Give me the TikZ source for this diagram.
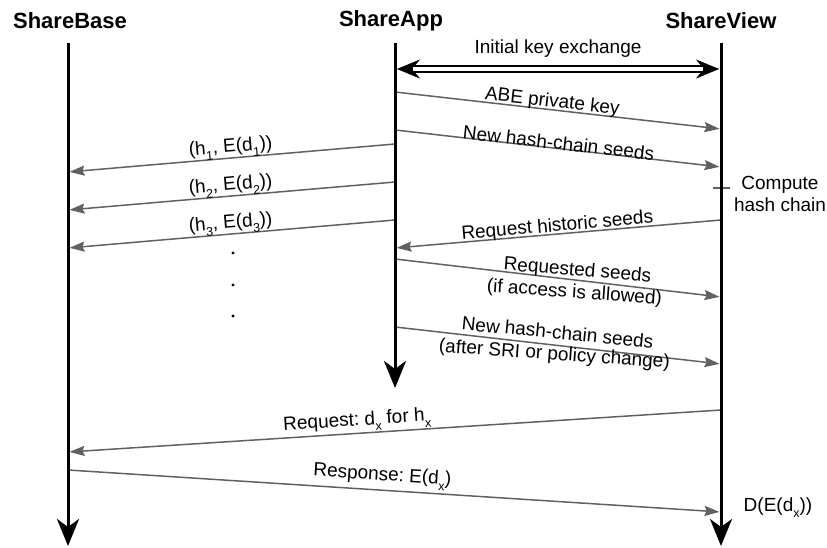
\documentclass[tikz,border=0pt]{standalone}
\usepackage{fontspec}
\setmainfont{Liberation Sans}
\usetikzlibrary{arrows.meta,positioning}
\frenchspacing
\newcommand{\lowidx}[1]{\raisebox{-6pt}{\fontsize{12.5}{13}\selectfont #1}}

\begin{document}
\begin{tikzpicture}[x=1pt,y=-1pt,
    hdr/.style={font=\fontsize{22}{25}\selectfont\bfseries,inner sep=0pt},
    life/.style={line width=3pt,-{Stealth[length=27pt,width=22pt,inset=8pt]}},
    msg/.style={draw=black!62,line width=1.5pt,-{Stealth[length=15pt,width=10pt,inset=2pt]},shorten >=1.5pt},
    lbl/.style={font=\fontsize{19}{22}\selectfont,sloped,inner sep=0pt},
    tilt/.style={font=\fontsize{19}{22}\selectfont,anchor=base,inner sep=0pt,rotate=#1},
    note/.style={font=\fontsize{19}{22}\selectfont,align=center,inner sep=0pt}]
  \useasboundingbox (0,0) rectangle (827,548);

  % participants
  \node[hdr](base) at (70,21){ShareBase};
  \node[hdr](app) at (391,21){ShareApp};
  \node[hdr](view) at (721,21){ShareView};

  \coordinate (bt) at (68,43);
  \coordinate (bb) at (68,546);
  \coordinate (at) at (395,43);
  \coordinate (ab) at (395,388);
  \coordinate (vt) at (721,43);
  \coordinate (vb) at (721,546);

  % message end points
  \coordinate (k1) at (397,69);
  \coordinate (k2) at (719,69);
  \coordinate (a1) at (395,92);
  \coordinate (v1) at (721,129);
  \coordinate (a2) at (395,130);
  \coordinate (v2) at (721,167);
  \coordinate (a3) at (395,144);
  \coordinate (b3) at (68,172);
  \coordinate (a4) at (395,182);
  \coordinate (b4) at (68,210);
  \coordinate (a5) at (395,220);
  \coordinate (b5) at (68,248);
  \coordinate (v6) at (721,220);
  \coordinate (a6) at (395,248);
  \coordinate (a7) at (395,259);
  \coordinate (v7) at (721,297);
  \coordinate (a8) at (395,327);
  \coordinate (v8) at (721,364);
  \coordinate (v9) at (721,410);
  \coordinate (b9) at (68,452);
  \coordinate (b10) at (68,470);
  \coordinate (v10) at (721,512);
  \coordinate (c1) at (713,188);
  \coordinate (c2) at (730,188);

  % key exchange, drawn as a double line
  \draw[line width=7.5pt,{Stealth[length=23pt,width=19pt,inset=8pt,line width=0.5pt]}-{Stealth[length=23pt,width=19pt,inset=8pt,line width=0.5pt]}] (k1) -- node[lbl,above=8pt]{Initial key exchange} (k2);
  \draw[white,line width=3.5pt,shorten <=16pt,shorten >=16pt] (k1) -- (k2);

  \draw[msg] (a1) -- node[lbl,above=-2pt,pos=0.48]{ABE private key} (v1);
  \draw[msg] (a2) -- node[lbl,above=-2pt]{New hash-chain seeds} (v2);
  \draw[msg] (a3) -- node[lbl,above=-1pt]{(h\lowidx{1}, E(d\lowidx{1}))} (b3);
  \draw[msg] (a4) -- node[lbl,above=-1pt]{(h\lowidx{2}, E(d\lowidx{2}))} (b4);
  \draw[msg] (a5) -- node[lbl,above=-1pt]{(h\lowidx{3}, E(d\lowidx{3}))} (b5);
  \draw[msg] (v6) -- node[lbl,above=-2pt]{Request historic seeds} (a6);
  \draw[msg] (a7) -- (v7);
  \draw[msg] (a8) -- (v8);
  \draw[msg] (v9) -- node[lbl,above=1pt,pos=0.556]{Request: d\lowidx{x} for h\lowidx{x}} (b9);
  \draw[msg] (b10) -- node[lbl,above=3pt,pos=0.48]{Response: E(d\lowidx{x})} (v10);

  % two-line labels, set a little flatter than their arrows
  \node[tilt=-4.7](rqs) at (577,276){Requested seeds};
  \node[tilt=-4.1](acc) at (574,298){(if access is allowed)};
  \node[tilt=-5.5](nhs) at (557,339){New hash-chain seeds};
  \node[tilt=-4](sri) at (554,360){(after SRI or policy change)};

  \draw[draw=black!62,line width=1.5pt] (c1) -- (c2);
  \node[note](comp) at (780,194){Compute\\hash chain};
  \node[note](dec) at (778,508){D(E(d\lowidx{x}))};

  \fill (233,253) circle (1.6pt) (233,285) circle (1.6pt) (233,316) circle (1.6pt);

  % lifelines
  \draw[life] (bt) -- (bb);
  \draw[life] (at) -- (ab);
  \draw[life] (vt) -- (vb);
\end{tikzpicture}
\end{document}
